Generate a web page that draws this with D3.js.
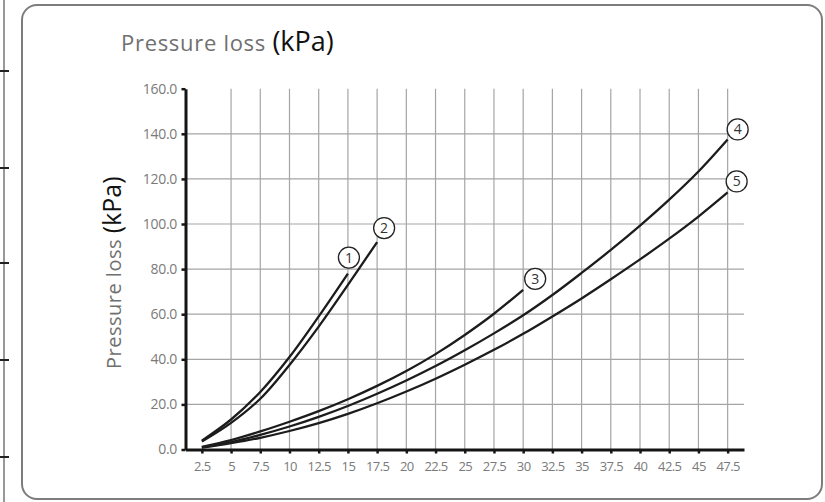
<!DOCTYPE html>
<html>
<head>
<meta charset="utf-8">
<script src="https://cdn.jsdelivr.net/npm/d3@7"></script>
<style>
  body { margin: 0; background: #fff; }
  svg { display: block; }
  .axis .domain { stroke: #151515; stroke-width: 3; }
  .axis .tick line { stroke: #151515; stroke-width: 2.5; }
  .axis .tick text { fill: #7a7a7a; font-family: 'Open Sans', sans-serif; }
  .x.axis .tick text { font-size: 13px; letter-spacing: -0.6px; }
  .y.axis .tick text { font-size: 14px; letter-spacing: -0.3px; }
  .grid line { stroke: #a5a5a5; stroke-width: 1.2; }
  .curve { fill: none; stroke: #1c1c1c; stroke-width: 2.3; }
  .badge circle { fill: #fff; stroke: #222; stroke-width: 1.3; }
  .badge text { fill: #333; font-family: 'Open Sans', sans-serif; font-size: 14px; }
</style>
</head>
<body>
<script>
//==============================================================================
// DATA
//==============================================================================

// flow (x) and pressure loss in kPa (y), one pair per curve
const flow1 = [2.5, 5, 7.5, 10, 12.5, 15];
const loss1 = [3.9, 13.3, 25.5, 41, 59, 78];

const flow2 = [2.5, 5, 7.5, 10, 12.5, 15, 17.5];
const loss2 = [3.5, 11.8, 22.5, 37.5, 54.5, 73, 92];

const flow3 = [2.5, 5, 7.5, 10, 12.5, 15, 17.5, 20, 22.5, 25, 27.5, 30];
const loss3 = [1.2, 4.2, 8, 12.3, 17, 22.3, 28.2, 34.8, 42.3, 50.8, 60.2, 70.8];

const flow4 = [2.5, 5, 7.5, 10, 12.5, 15, 17.5, 20, 22.5, 25, 27.5, 30, 32.5, 35, 37.5, 40, 42.5, 45, 47.5];
const loss4 = [0.9, 3.3, 6.5, 10.2, 14.5, 19.3, 24.7, 30.6, 37, 44, 51.5, 59.5, 68.5, 78.3, 88.5, 99.3, 110.8, 123.3, 137.5];

const flow5 = [2.5, 5, 7.5, 10, 12.5, 15, 17.5, 20, 22.5, 25, 27.5, 30, 32.5, 35, 37.5, 40, 42.5, 45, 47.5];
const loss5 = [0.8, 2.8, 5.2, 8.2, 11.7, 15.8, 20.5, 25.7, 31.4, 37.6, 44.2, 51.3, 59, 67, 75.5, 84.3, 93.5, 103.3, 114];

const curveLabels = ['1', '2', '3', '4', '5'];

// tick labels
const xTicks = [2.5, 5, 7.5, 10, 12.5, 15, 17.5, 20, 22.5, 25, 27.5, 30, 32.5, 35, 37.5, 40, 42.5, 45, 47.5];
const yTicks = [0, 20, 40, 60, 80, 100, 120, 140, 160];

//==============================================================================
// PARAMETERS
//==============================================================================

const W = 825, H = 502;
const plot = { left: 185.5, right: 744, top: 88.7, bottom: 449.5 };

const x = d3.scaleLinear().domain([1.1, 48.9]).range([plot.left, plot.right]);
const y = d3.scaleLinear().domain([0, 160]).range([plot.bottom, plot.top]);

// label badge offsets from the end of each curve (px)
const badgeOffset = [[1, -16], [7, -14], [12, -11], [10, -10], [9, -11]];

const svg = d3.select('body').append('svg')
  .attr('width', W)
  .attr('height', H);

//==============================================================================
// FRAME
//==============================================================================

// edge of the neighbouring figure on the left
svg.append('line')
  .attr('x1', 4).attr('x2', 4).attr('y1', 0).attr('y2', H)
  .attr('stroke', '#555').attr('stroke-width', 1.2);
svg.selectAll('.edge-tick')
  .data([71, 168, 263, 360, 457])
  .enter().append('line')
  .attr('x1', 0).attr('x2', 9)
  .attr('y1', d => d).attr('y2', d => d)
  .attr('stroke', '#222').attr('stroke-width', 2);

// rounded card
svg.append('rect')
  .attr('x', 22).attr('y', 5)
  .attr('width', 800).attr('height', 494)
  .attr('rx', 15).attr('ry', 15)
  .attr('fill', '#fff')
  .attr('stroke', '#7d7d7d')
  .attr('stroke-width', 2);

// title
const title = svg.append('text')
  .attr('x', 121)
  .attr('y', 51)
  .attr('font-family', "'Open Sans', sans-serif");
title.append('tspan')
  .attr('fill', '#707070')
  .attr('font-size', 22)
  .attr('letter-spacing', 0.7)
  .text('Pressure loss ');
title.append('tspan')
  .attr('fill', '#111')
  .attr('font-size', 27)
  .text('(kPa)');

// y axis title
const ytitle = svg.append('text')
  .attr('transform', 'translate(121,369) rotate(-90)')
  .attr('font-family', "'Open Sans', sans-serif");
ytitle.append('tspan')
  .attr('fill', '#707070')
  .attr('font-size', 20)
  .attr('letter-spacing', 0.5)
  .text('Pressure loss ');
ytitle.append('tspan')
  .attr('fill', '#111')
  .attr('font-size', 25)
  .text('(kPa)');

//==============================================================================
// DRAW
//==============================================================================

// grid
const grid = svg.append('g').attr('class', 'grid');
grid.selectAll('.v')
  .data(xTicks.filter(d => d > 2.5))
  .enter().append('line')
  .attr('x1', d => x(d)).attr('x2', d => x(d))
  .attr('y1', y(160)).attr('y2', y(0));
grid.selectAll('.h')
  .data(yTicks.filter(d => d > 0 && d < 160))
  .enter().append('line')
  .attr('x1', x.range()[0]).attr('x2', x.range()[1])
  .attr('y1', d => y(d)).attr('y2', d => y(d));

// curves
const series = [
  [flow1, loss1], [flow2, loss2], [flow3, loss3], [flow4, loss4], [flow5, loss5]
].map(([f, l], i) => ({ label: curveLabels[i], pts: f.map((v, j) => [v, l[j]]) }));

const line = d3.line()
  .x(d => x(d[0]))
  .y(d => y(d[1]))
  .curve(d3.curveCatmullRom.alpha(0.5));

svg.selectAll('.curve')
  .data(series)
  .enter().append('path')
  .attr('class', 'curve')
  .attr('d', d => line(d.pts));

// axes
svg.append('g')
  .attr('class', 'x axis')
  .attr('transform', `translate(0,${plot.bottom})`)
  .call(d3.axisBottom(x)
    .tickValues(xTicks)
    .tickSize(4)
    .tickSizeOuter(0)
    .tickPadding(8)
    .tickFormat(d => d % 1 ? d.toFixed(1) : d));

svg.append('g')
  .attr('class', 'y axis')
  .attr('transform', `translate(${plot.left},0)`)
  .call(d3.axisLeft(y)
    .tickValues(yTicks)
    .tickSize(4)
    .tickSizeOuter(0)
    .tickPadding(4.5)
    .tickFormat(d3.format('.1f')));

// numbered badges at curve ends
const badges = svg.selectAll('.badge')
  .data(series)
  .enter().append('g')
  .attr('class', 'badge')
  .attr('transform', (d, i) => {
    const end = d.pts[d.pts.length - 1];
    return `translate(${x(end[0]) + badgeOffset[i][0]},${y(end[1]) + badgeOffset[i][1]})`;
  });

badges.append('circle').attr('r', 10.5);
badges.append('text')
  .attr('text-anchor', 'middle')
  .attr('dy', '0.36em')
  .text(d => d.label);
</script>
</body>
</html>
